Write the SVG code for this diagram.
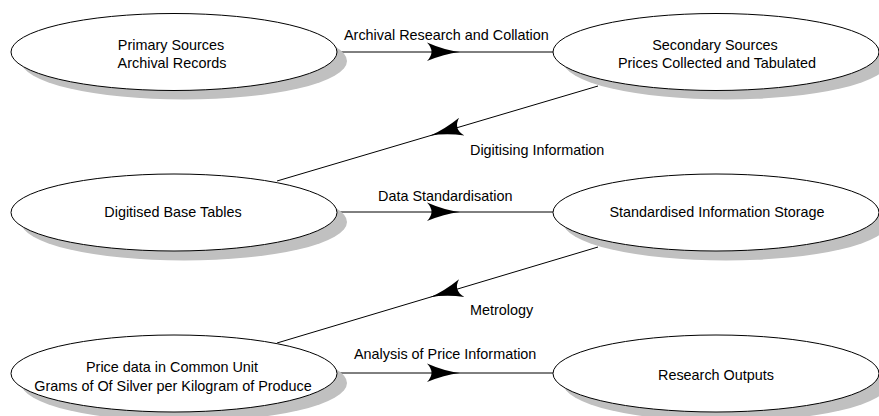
<svg xmlns="http://www.w3.org/2000/svg" xmlns:xlink="http://www.w3.org/1999/xlink" width="879" height="416" viewBox="0 0 879 416">
<style>
text{font-family:"Liberation Sans",Arial,sans-serif;font-size:14.4px;fill:#000}
.n text{text-anchor:middle}
.sh{fill:#c0c0c0;stroke:none}
.el{fill:#fff;stroke:#000;stroke-width:1}
.ln{stroke:#000;stroke-width:1;fill:none}
</style>
<defs>
<path id="ah" d="M0,0 Q-16,-2 -33,-9.5 Q-24,0 -33,9 Q-16,2 0,0 Z" fill="#000"/>
</defs>
<rect width="879" height="416" fill="#fff"/>
<g id="connectors">
<line class="ln" x1="337" y1="52" x2="553" y2="52"/>
<use xlink:href="#ah" transform="translate(460,52)"/>
<text x="344" y="40">Archival Research and Collation</text>
<line class="ln" x1="598" y1="86" x2="277" y2="181"/>
<use xlink:href="#ah" transform="translate(430,135.7) rotate(163.5)"/>
<text x="470" y="155">Digitising Information</text>
<line class="ln" x1="337" y1="212" x2="553" y2="212"/>
<use xlink:href="#ah" transform="translate(460,212)"/>
<text x="378" y="201">Data Standardisation</text>
<line class="ln" x1="598" y1="247" x2="277" y2="343"/>
<use xlink:href="#ah" transform="translate(430,297.2) rotate(163.4)"/>
<text x="470" y="315">Metrology</text>
<line class="ln" x1="337" y1="373" x2="553" y2="373"/>
<use xlink:href="#ah" transform="translate(460,373)"/>
<text x="354" y="359">Analysis of Price Information</text>
</g>
<g id="primary" class="n">
<ellipse class="sh" cx="184" cy="61" rx="163" ry="38.5"/>
<ellipse class="el" cx="174" cy="52" rx="163" ry="38.5"/>
<text x="171" y="50">Primary Sources</text>
<text x="172" y="68">Archival Records</text>
</g>
<g id="secondary" class="n">
<ellipse class="sh" cx="726" cy="61" rx="163" ry="38.5"/>
<ellipse class="el" cx="716" cy="52" rx="163" ry="38.5"/>
<text x="715" y="50">Secondary Sources</text>
<text x="717" y="68">Prices Collected and Tabulated</text>
</g>
<g id="digitised" class="n">
<ellipse class="sh" cx="184" cy="222" rx="163" ry="38.5"/>
<ellipse class="el" cx="174" cy="212.5" rx="163" ry="38.5"/>
<text x="173" y="217">Digitised Base Tables</text>
</g>
<g id="standardised" class="n">
<ellipse class="sh" cx="726" cy="222" rx="163" ry="38.5"/>
<ellipse class="el" cx="716" cy="212.5" rx="163" ry="38.5"/>
<text x="717" y="217">Standardised Information Storage</text>
</g>
<g id="pricedata" class="n">
<ellipse class="sh" cx="184" cy="383" rx="163" ry="38.5"/>
<ellipse class="el" cx="174" cy="373.5" rx="163" ry="38.5"/>
<text x="172" y="372">Price data in Common Unit</text>
<text x="173" y="391">Grams of Of Silver per Kilogram of Produce</text>
</g>
<g id="outputs" class="n">
<ellipse class="sh" cx="726" cy="383" rx="163" ry="38.5"/>
<ellipse class="el" cx="716" cy="373.5" rx="163" ry="38.5"/>
<text x="716" y="380">Research Outputs</text>
</g>
</svg>
